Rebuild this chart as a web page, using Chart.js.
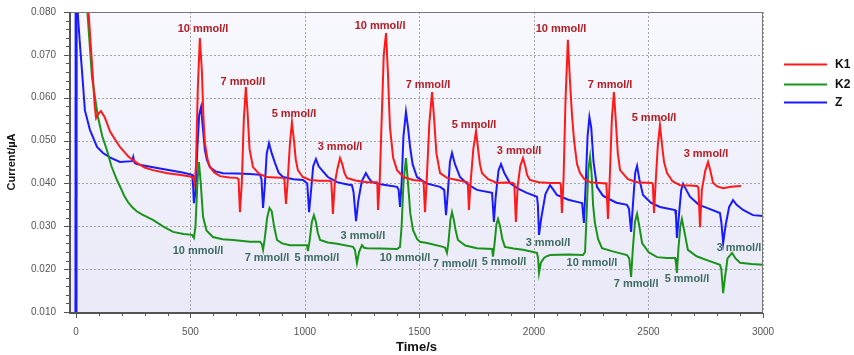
<!DOCTYPE html>
<html>
<head>
<meta charset="utf-8">
<script src="https://cdn.jsdelivr.net/npm/chart.js@4/dist/chart.umd.min.js"></script>
<style>
  body { margin: 0; background: #fff; }
  canvas { display: block; }
</style>
</head>
<body>
<canvas id="amperogram" width="854" height="355"></canvas>
<script>
// time (s), current (µA)
const k1Points = [
  [40, 0.095], [55, 0.080], [70, 0.068], [82, 0.058], [88, 0.0553], [98, 0.0563], [109, 0.0569],
  [125, 0.0555], [150, 0.052], [192, 0.0485], [230, 0.0462], [266, 0.0448], [300, 0.0437],
  [336, 0.0431], [400, 0.0424], [450, 0.0420], [500, 0.0416], [512, 0.0414], [518, 0.0400],
  [524, 0.0440], [532, 0.062], [541, 0.0739], [550, 0.066], [557, 0.055], [563, 0.0494],
  [575, 0.0455], [585, 0.0438], [605, 0.0425], [629, 0.0417], [670, 0.0414], [703, 0.0413],
  [710, 0.0410], [716, 0.0333], [724, 0.040], [733, 0.055], [742, 0.0625], [750, 0.056],
  [758, 0.048], [773, 0.0438], [800, 0.0422], [834, 0.0415], [870, 0.0414], [904, 0.0413],
  [910, 0.041], [917, 0.0352], [924, 0.040], [934, 0.049], [943, 0.0543], [952, 0.050],
  [960, 0.0455], [969, 0.0431], [990, 0.0415], [1022, 0.0408], [1060, 0.0406], [1109, 0.0406],
  [1115, 0.0404], [1122, 0.0329], [1130, 0.0400], [1142, 0.0435], [1153, 0.0459], [1163, 0.0445],
  [1172, 0.0425], [1183, 0.0413], [1220, 0.0407], [1271, 0.0403], [1314, 0.0403], [1316, 0.040],
  [1319, 0.0338], [1326, 0.040], [1335, 0.055], [1344, 0.070], [1354, 0.0751], [1362, 0.066],
  [1371, 0.0532], [1385, 0.0460], [1402, 0.0431], [1430, 0.0415], [1472, 0.0408], [1510, 0.0406],
  [1518, 0.0404], [1524, 0.0333], [1531, 0.040], [1543, 0.054], [1555, 0.0613], [1564, 0.055],
  [1574, 0.047], [1590, 0.0424], [1620, 0.0413], [1664, 0.0408], [1707, 0.0403], [1711, 0.0401],
  [1716, 0.0338], [1723, 0.040], [1735, 0.048], [1747, 0.0522], [1756, 0.048], [1764, 0.0445],
  [1773, 0.0424], [1800, 0.0410], [1838, 0.0401], [1880, 0.0402], [1908, 0.0401], [1914, 0.0398],
  [1921, 0.0310], [1929, 0.0395], [1940, 0.0440], [1952, 0.0459], [1962, 0.0440], [1970, 0.0420],
  [1982, 0.0408], [2020, 0.0403], [2070, 0.0401], [2113, 0.0401], [2117, 0.0398], [2122, 0.0331],
  [2129, 0.041], [2138, 0.060], [2148, 0.0735], [2157, 0.064], [2166, 0.056], [2175, 0.0500],
  [2188, 0.0445], [2201, 0.0424], [2220, 0.0410], [2245, 0.0403], [2288, 0.0401], [2316, 0.0400],
  [2323, 0.0317], [2330, 0.040], [2340, 0.055], [2349, 0.0613], [2358, 0.054], [2366, 0.047],
  [2376, 0.0431], [2410, 0.0410], [2450, 0.0403], [2515, 0.0401], [2519, 0.0398], [2524, 0.0331],
  [2531, 0.040], [2541, 0.049], [2550, 0.0536], [2559, 0.049], [2568, 0.0450], [2581, 0.0424],
  [2605, 0.0405], [2638, 0.0396], [2680, 0.0395], [2712, 0.0394], [2718, 0.039], [2725, 0.0298],
  [2733, 0.0385], [2748, 0.0430], [2760, 0.0450], [2770, 0.0430], [2782, 0.0401], [2800, 0.0393],
  [2826, 0.0389], [2860, 0.0392], [2904, 0.0394]
];

const k2Points = [
  [35, 0.095], [50, 0.080], [70, 0.0648], [96, 0.0555], [115, 0.051], [135, 0.0478], [155, 0.0440],
  [179, 0.0408], [195, 0.0390], [210, 0.0372], [228, 0.0356], [245, 0.0345], [265, 0.0335],
  [290, 0.0327], [336, 0.0315], [380, 0.0300], [424, 0.0287], [470, 0.0282], [507, 0.0280],
  [515, 0.0273], [522, 0.0300], [530, 0.0400], [537, 0.0450], [545, 0.0400], [555, 0.0322],
  [570, 0.0290], [598, 0.0275], [640, 0.0270], [686, 0.0268], [760, 0.0264], [804, 0.0264],
  [812, 0.0258], [817, 0.0245], [824, 0.0270], [835, 0.0320], [845, 0.0343], [855, 0.0335],
  [865, 0.0300], [878, 0.0268], [900, 0.0260], [935, 0.0256], [1009, 0.0256], [1013, 0.0242],
  [1020, 0.0265], [1030, 0.0310], [1039, 0.0326], [1048, 0.0310], [1056, 0.0285], [1066, 0.0268],
  [1100, 0.0262], [1140, 0.0259], [1210, 0.0252], [1218, 0.0245], [1227, 0.0214], [1236, 0.0240],
  [1249, 0.0256], [1258, 0.0250], [1271, 0.0249], [1330, 0.0248], [1402, 0.0247], [1415, 0.0252],
  [1422, 0.0300], [1430, 0.0400], [1441, 0.0459], [1450, 0.0400], [1460, 0.0330], [1472, 0.0291],
  [1490, 0.0270], [1502, 0.0264], [1533, 0.0261], [1603, 0.0252], [1612, 0.0250], [1620, 0.0238],
  [1627, 0.0265], [1635, 0.0315], [1642, 0.0333], [1650, 0.0315], [1658, 0.0290], [1668, 0.0268],
  [1700, 0.0255], [1751, 0.0249], [1817, 0.0247], [1821, 0.0229], [1828, 0.0260], [1836, 0.0305],
  [1843, 0.0317], [1852, 0.0300], [1862, 0.0270], [1873, 0.0252], [1910, 0.0248], [1952, 0.0245],
  [2013, 0.0238], [2018, 0.0225], [2022, 0.0191], [2030, 0.0215], [2044, 0.0226], [2055, 0.0230],
  [2070, 0.0233], [2150, 0.0234], [2214, 0.0233], [2223, 0.0240], [2230, 0.0330], [2237, 0.0430],
  [2245, 0.0462], [2252, 0.0420], [2258, 0.0350], [2266, 0.0308], [2280, 0.0270], [2297, 0.0249],
  [2340, 0.0242], [2406, 0.0233], [2416, 0.0225], [2424, 0.0182], [2432, 0.0250], [2441, 0.0310],
  [2450, 0.0329], [2460, 0.0300], [2472, 0.0261], [2500, 0.0240], [2537, 0.0228], [2580, 0.0226],
  [2616, 0.0226], [2620, 0.0215], [2624, 0.0191], [2631, 0.0250], [2639, 0.0300], [2646, 0.0317],
  [2656, 0.0290], [2672, 0.0245], [2710, 0.0230], [2755, 0.0221], [2812, 0.0210], [2818, 0.0200],
  [2826, 0.0144], [2834, 0.0180], [2845, 0.0225], [2856, 0.0232], [2865, 0.0238], [2880, 0.0225],
  [2900, 0.0215], [2950, 0.0212], [3000, 0.0210]
];

const zPoints = [
  [0, 0.005], [1, 0.095], [9, 0.0788], [18, 0.072], [26, 0.0665], [39, 0.0571], [61, 0.0525],
  [92, 0.0485], [118, 0.0471], [150, 0.0460], [192, 0.0450], [245, 0.0452], [250, 0.0462],
  [256, 0.0448], [266, 0.0445], [336, 0.0438], [410, 0.0431], [470, 0.0425], [507, 0.0420],
  [511, 0.0400], [515, 0.0354], [522, 0.0380], [530, 0.0480], [538, 0.0560], [546, 0.0578],
  [554, 0.0530], [563, 0.0478], [572, 0.0455], [585, 0.0438], [610, 0.0428], [642, 0.0424],
  [700, 0.0423], [760, 0.0422], [804, 0.0420], [810, 0.0410], [817, 0.0343], [824, 0.0390],
  [833, 0.0470], [843, 0.0494], [855, 0.0470], [869, 0.0448], [885, 0.0425], [904, 0.0415],
  [950, 0.0410], [991, 0.0408], [1010, 0.0400], [1018, 0.0333], [1026, 0.0380], [1036, 0.0440],
  [1048, 0.0457], [1060, 0.0440], [1074, 0.0431], [1100, 0.0415], [1140, 0.0403], [1180, 0.0398],
  [1205, 0.0396], [1212, 0.0380], [1223, 0.0312], [1233, 0.0360], [1248, 0.0405], [1266, 0.0424],
  [1278, 0.0413], [1292, 0.0403], [1330, 0.0398], [1358, 0.0396], [1402, 0.0392], [1409, 0.0385],
  [1415, 0.0345], [1422, 0.0400], [1430, 0.0510], [1441, 0.0567], [1450, 0.0530], [1459, 0.0485],
  [1470, 0.0445], [1489, 0.0415], [1530, 0.0400], [1590, 0.0392], [1608, 0.0385], [1616, 0.0326],
  [1624, 0.0380], [1633, 0.0450], [1642, 0.0471], [1655, 0.0445], [1677, 0.0415], [1710, 0.0398],
  [1751, 0.0385], [1817, 0.0378], [1825, 0.0310], [1833, 0.0370], [1845, 0.0430], [1856, 0.0445],
  [1870, 0.0425], [1895, 0.0401], [1930, 0.0388], [1969, 0.0378], [2013, 0.0369], [2017, 0.0350],
  [2022, 0.0280], [2032, 0.0320], [2050, 0.0375], [2070, 0.0396], [2085, 0.0385], [2100, 0.0373],
  [2150, 0.0362], [2188, 0.0357], [2210, 0.0354], [2218, 0.0308], [2226, 0.0400], [2234, 0.0510],
  [2242, 0.0555], [2250, 0.0530], [2260, 0.0450], [2275, 0.0392], [2300, 0.0372], [2319, 0.0366],
  [2360, 0.0355], [2406, 0.0350], [2415, 0.0340], [2424, 0.0287], [2432, 0.0350], [2442, 0.0425],
  [2450, 0.0441], [2460, 0.0410], [2476, 0.0373], [2510, 0.0355], [2550, 0.0345], [2616, 0.0338],
  [2620, 0.0325], [2624, 0.0273], [2632, 0.0320], [2643, 0.0385], [2651, 0.0399], [2665, 0.0385],
  [2681, 0.0369], [2720, 0.0350], [2755, 0.0343], [2812, 0.0331], [2818, 0.0310], [2826, 0.0261],
  [2836, 0.0300], [2852, 0.0345], [2869, 0.0361], [2885, 0.0350], [2913, 0.0338], [2956, 0.0326],
  [3000, 0.0324]
];

const seriesNames = ["K1", "K2", "Z"];
const seriesColors = ["#ff1a1a", "#1a931a", "#1a1aff"];

// concentration labels: [time, current, text]
const k1Labels = [
  [555, 0.0760, "10 mmol/l"], [729, 0.0637, "7 mmol/l"], [952, 0.0562, "5 mmol/l"], [1153, 0.0485, "3 mmol/l"],
  [1328, 0.0767, "10 mmol/l"], [1537, 0.0630, "7 mmol/l"], [1738, 0.0536, "5 mmol/l"], [1935, 0.0476, "3 mmol/l"],
  [2118, 0.0760, "10 mmol/l"], [2332, 0.0630, "7 mmol/l"], [2524, 0.0553, "5 mmol/l"], [2751, 0.0469, "3 mmol/l"]
];
const k2Labels = [
  [533, 0.0242, "10 mmol/l"], [834, 0.0226, "7 mmol/l"], [1052, 0.0226, "5 mmol/l"], [1253, 0.0277, "3 mmol/l"],
  [1437, 0.0226, "10 mmol/l"], [1655, 0.0212, "7 mmol/l"], [1869, 0.0217, "5 mmol/l"], [2061, 0.0261, "3 mmol/l"],
  [2253, 0.0214, "10 mmol/l"], [2446, 0.0165, "7 mmol/l"], [2668, 0.0177, "5 mmol/l"], [2895, 0.0249, "3 mmol/l"]
];

const xTicks = [0, 500, 1000, 1500, 2000, 2500, 3000];
const yTicks = [0.010, 0.020, 0.030, 0.040, 0.050, 0.060, 0.070, 0.080];

const toXY = pts => pts.map(p => ({ x: p[0], y: p[1] }));

const plotBackground = {
  id: "plotBackground",
  beforeDraw(chart) {
    const { ctx, chartArea: a } = chart;
    const g = ctx.createLinearGradient(0, a.top, 0, a.bottom);
    g.addColorStop(0, "#f8f8fe");
    g.addColorStop(1, "#e9e9f8");
    ctx.save();
    ctx.fillStyle = g;
    ctx.fillRect(a.left, a.top, a.right - a.left, a.bottom - a.top);
    ctx.restore();
  },
  beforeDatasetsDraw(chart) {
    // dotted grid at the labelled ticks
    const { ctx, chartArea: a, scales } = chart;
    ctx.save();
    ctx.strokeStyle = "#a4a4ae";
    ctx.lineWidth = 1;
    ctx.setLineDash([2, 2]);
    xTicks.forEach(v => {
      const px = Math.round(scales.x.getPixelForValue(v)) + 0.5;
      ctx.beginPath();
      ctx.moveTo(px, a.top);
      ctx.lineTo(px, a.bottom);
      ctx.stroke();
    });
    yTicks.forEach(v => {
      const py = Math.round(scales.y.getPixelForValue(v)) + 0.5;
      ctx.beginPath();
      ctx.moveTo(a.left, py);
      ctx.lineTo(a.right, py);
      ctx.stroke();
    });
    ctx.restore();
  }
};

const frameAndTicks = {
  id: "frameAndTicks",
  afterDraw(chart) {
    const { ctx, chartArea: a, scales } = chart;
    const x = scales.x, y = scales.y;
    ctx.save();
    ctx.strokeStyle = "#777";
    ctx.lineWidth = 1;
    ctx.beginPath();
    ctx.moveTo(a.left, a.top + 0.5);
    ctx.lineTo(a.right - 0.5, a.top + 0.5);
    ctx.lineTo(a.right - 0.5, a.bottom);
    ctx.stroke();
    ctx.strokeStyle = "#555";
    ctx.lineWidth = 2;
    ctx.beginPath();
    ctx.moveTo(a.left, a.top);
    ctx.lineTo(a.left, a.bottom + 1);
    ctx.lineTo(a.right, a.bottom + 1);
    ctx.stroke();
    ctx.lineWidth = 1;
    for (let t = 0; t <= 3000; t += 100) {
      const px = Math.round(x.getPixelForValue(t)) + 0.5;
      const len = t % 500 === 0 ? 5 : 3;
      ctx.beginPath();
      ctx.moveTo(px, a.bottom + 1);
      ctx.lineTo(px, a.bottom + 1 + len);
      ctx.stroke();
    }
    for (let k = 0; k <= 35; k++) {
      const py = Math.round(y.getPixelForValue(0.010 + k * 0.002)) + 0.5;
      const len = k % 5 === 0 ? 5 : 3;
      ctx.beginPath();
      ctx.moveTo(a.left - 1, py);
      ctx.lineTo(a.left - 1 - len, py);
      ctx.stroke();
    }
    ctx.restore();
  }
};

const concentrationLabels = {
  id: "concentrationLabels",
  afterDatasetsDraw(chart) {
    const { ctx, scales } = chart;
    ctx.save();
    ctx.font = "bold 11px 'Liberation Sans', Arial, sans-serif";
    ctx.textAlign = "center";
    ctx.textBaseline = "middle";
    const put = (list, color) => {
      ctx.fillStyle = color;
      list.forEach(l => ctx.fillText(l[2], scales.x.getPixelForValue(l[0]), scales.y.getPixelForValue(l[1])));
    };
    put(k1Labels, "#b41c22");
    put(k2Labels, "#3d6b60");
    ctx.restore();
  }
};

const sideLegend = {
  id: "sideLegend",
  afterDraw(chart) {
    const ctx = chart.ctx;
    const rows = [64, 84, 102];
    ctx.save();
    ctx.font = "bold 12px 'Liberation Sans', Arial, sans-serif";
    ctx.textBaseline = "middle";
    chart.data.datasets.forEach((ds, i) => {
      ctx.strokeStyle = ds.borderColor;
      ctx.lineWidth = 2;
      ctx.beginPath();
      ctx.moveTo(784, rows[i] + 0.5);
      ctx.lineTo(827, rows[i] + 0.5);
      ctx.stroke();
      ctx.fillStyle = "#111";
      ctx.fillText(ds.label, 835, rows[i] + 1);
    });
    ctx.restore();
  }
};

function init() {
  const ctx = document.getElementById("amperogram");
  const allPoints = [k1Points, k2Points, zPoints];

  new Chart(ctx, {
    type: "line",
    data: {
      datasets: allPoints.map((pts, i) => ({
        label: seriesNames[i],
        data: toXY(pts),
        borderColor: seriesColors[i],
        borderWidth: 2,
        pointRadius: 0,
        tension: 0,
        fill: false,
        // the switch-on spike of Z is drawn heavier, as in the original
        segment: i === 2 ? { borderWidth: c => (c.p0DataIndex === 0 ? 3 : 2) } : undefined
      }))
    },
    options: {
      responsive: false,
      animation: false,
      devicePixelRatio: 1,
      layout: { padding: { left: 0, right: 91, top: 12, bottom: 0 } },
      plugins: { legend: { display: false }, tooltip: { enabled: false } },
      scales: {
        x: {
          type: "linear",
          min: -26,
          max: 3000,
          afterBuildTicks: s => { s.ticks = xTicks.map(v => ({ value: v })); },
          afterFit: s => { s.height = 43; },
          grid: { display: false },
          border: { display: false },
          ticks: {
            padding: 6,
            maxRotation: 0,
            color: "#555",
            font: { family: "'Liberation Sans', Arial, sans-serif", size: 10 },
            callback: v => String(v)
          },
          title: {
            display: true,
            text: "Time/s",
            color: "#111",
            padding: { top: 0, bottom: 0 },
            font: { family: "'Liberation Sans', Arial, sans-serif", size: 13, weight: "bold" }
          }
        },
        y: {
          min: 0.010,
          max: 0.080,
          afterBuildTicks: s => { s.ticks = yTicks.map(v => ({ value: v })); },
          afterFit: s => { s.width = 70; },
          grid: { display: false },
          border: { display: false },
          ticks: {
            padding: 6,
            color: "#555",
            font: { family: "'Liberation Sans', Arial, sans-serif", size: 10 },
            callback: v => v.toFixed(3)
          },
          title: {
            display: true,
            text: "Current/µA",
            color: "#111",
            padding: { top: 5, bottom: 0 },
            font: { family: "'Liberation Sans', Arial, sans-serif", size: 11, weight: "bold" }
          }
        }
      }
    },
    plugins: [plotBackground, frameAndTicks, concentrationLabels, sideLegend]
  });
}

window.onload = init;
</script>
</body>
</html>
